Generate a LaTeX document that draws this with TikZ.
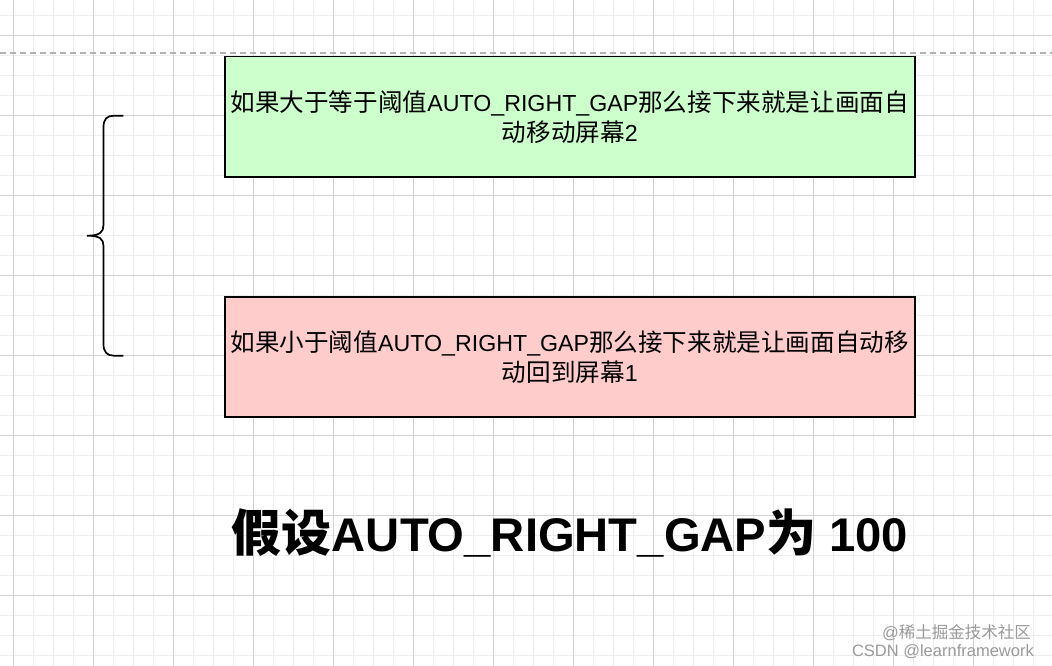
\documentclass[tikz,border=0pt]{standalone}
\usepackage{fontspec}
\setmainfont{Liberation Sans}
\newfontfamily\cjk[Scale=1.06]{Noto Sans CJK SC}
\newfontfamily\cjkmark{Noto Sans CJK SC}
\definecolor{gridmajor}{HTML}{D2D2D2}
\definecolor{gridminor}{HTML}{EDEDED}
\definecolor{yesfill}{HTML}{CCFFCC}
\definecolor{nofill}{HTML}{FFCCCC}
\definecolor{markgray}{HTML}{9A9A9A}

\begin{document}
\begin{tikzpicture}[x=1pt, y=-1pt,
    casebox/.style={draw, line width=1.5pt, minimum width=690pt, minimum height=120pt,
      anchor=north west, align=center, inner sep=0pt, font=\fontsize{23.2}{30}\selectfont},
    watermark/.style={anchor=east, text=markgray, inner sep=0pt, font=\fontsize{16.5}{20}\selectfont}
  ]
    \useasboundingbox (0,0) rectangle (1052,666);
    \fill[white] (0,0) rectangle (1052,666);

    % grid
    \foreach \gx in {-6.7,13.3,...,1060} \draw[gridminor] (\gx,0) -- (\gx,666);
    \foreach \gy in {-5,15,...,670} \draw[gridminor] (0,\gy) -- (1052,\gy);
    \foreach \gx in {13.3,93.3,...,1060} \draw[gridmajor] (\gx,0) -- (\gx,666);
    \foreach \gy in {35,115,...,670} \draw[gridmajor] (0,\gy) -- (1052,\gy);

    \draw[gray!60, line width=2pt, dash pattern=on 6pt off 4pt] (0,53.3) -- (1052,53.3);

    \node[casebox, fill=yesfill] (greater) at (224,56)
      {{\cjk 如果大于等于阈值}AUTO\_RIGHT\_GAP{\cjk 那么接下来就是让画面自}\\{\cjk 动移动屏幕}2};
    \node[casebox, fill=nofill] (less) at (224,296)
      {{\cjk 如果小于阈值}AUTO\_RIGHT\_GAP{\cjk 那么接下来就是让画面自动移}\\{\cjk 动回到屏幕}1};

    % brace
    \draw[line width=1.7pt] (123.3,115.7) -- (114,115.7)
      .. controls (107,115.7) and (103.5,119) .. (103.5,127) -- (103.5,225)
      .. controls (103.5,232) and (100,235.7) .. (87,235.7)
      .. controls (100,235.7) and (103.5,239) .. (103.5,246) -- (103.5,344)
      .. controls (103.5,352) and (107,355.7) .. (114,355.7) -- (123.3,355.7);

    \node[font=\fontsize{47.2}{56}\selectfont\bfseries] (title) at (570,533)
      {{\cjk 假设}AUTO\_RIGHT\_GAP{\cjk 为} 100};

    \node[watermark] (juejin) at (1031,633) {@{\cjkmark 稀土掘金技术社区}};
    \node[watermark] (csdn) at (1034,652) {CSDN @learnframework};
  \end{tikzpicture}
\end{document}
